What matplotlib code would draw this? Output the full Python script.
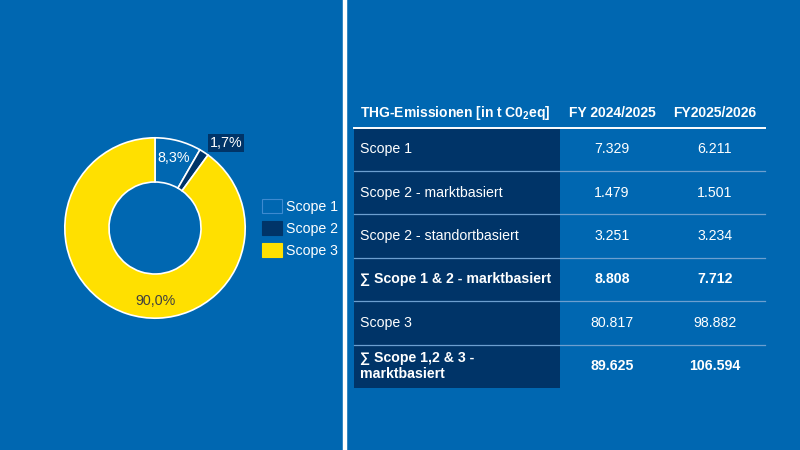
import numpy as np
import matplotlib
matplotlib.use('Agg')
import matplotlib.pyplot as plt
import matplotlib.patches as mpatches

plt.rcParams['font.family'] = ['Liberation Sans', 'DejaVu Sans']
plt.rcParams['mathtext.fontset'] = 'custom'
plt.rcParams['mathtext.rm'] = 'Liberation Sans:bold'
plt.rcParams['mathtext.default'] = 'rm'

# donut data
scopes = ['Scope 1', 'Scope 2', 'Scope 3']
shares = [8.3, 1.7, 90.0]

# table data
header = ['THG-Emissionen [in t C0$_2$eq]', 'FY 2024/2025', 'FY2025/2026']
row_labels = ['Scope 1', 'Scope 2 - marktbasiert', 'Scope 2 - standortbasiert',
              '\u2211 Scope 1 & 2 - marktbasiert', 'Scope 3',
              '\u2211 Scope 1,2 & 3 -\nmarktbasiert']
fy_2425 = ['7.329', '1.479', '3.251', '8.808', '80.817', '89.625']
fy_2526 = ['6.211', '1.501', '3.234', '7.712', '98.882', '106.594']
bold_rows = [False, False, False, True, False, True]

bg = '#0067b1'
navy = '#003468'
yellow = '#ffe000'
colors = [bg, navy, yellow]

fig = plt.figure(figsize=(8, 4.5), dpi=100, facecolor=bg)
ax = fig.add_axes([0, 0, 1, 1])
ax.set_xlim(0, 800)
ax.set_ylim(450, 0)
ax.axis('off')

# white divider
ax.plot([345, 345], [0, 450], color='white', lw=3.2, solid_capstyle='butt')

# table
x0, x1, xc, xr = 354, 560, [612, 715], 765
top, rh = 127.5, 43.4
ax.add_patch(mpatches.Rectangle((x0, top), x1 - x0, rh * len(row_labels),
                                facecolor=navy, edgecolor='none'))
ax.text(360, 113, header[0], color='white', fontsize=10, fontweight='bold',
        va='center', ha='left')
for j in range(2):
    ax.text(xc[j], 113, header[j + 1], color='white', fontsize=10,
            fontweight='bold', va='center', ha='center')
ax.plot([x0, xr], [top, top], color='white', lw=1.4)

for i, lab in enumerate(row_labels):
    yc = top + rh * (i + 0.5)
    w = 'bold' if bold_rows[i] else 'normal'
    ax.text(360, yc, lab, color='white', fontsize=10.2, fontweight=w,
            va='center', ha='left', linespacing=1.15)
    ax.text(xc[0], yc, fy_2425[i], color='white', fontsize=10.2, fontweight=w,
            va='center', ha='center')
    ax.text(xc[1], yc, fy_2526[i], color='white', fontsize=10.2, fontweight=w,
            va='center', ha='center')
    if i < len(row_labels) - 1:
        ax.plot([x0, xr], [top + rh * (i + 1)] * 2, color='#6c9fd0', lw=0.9)

# donut
cx, cy, R = 155, 228, 92
pax = fig.add_axes([(cx - R) / 800, 1 - (cy + R) / 450, 2 * R / 800, 2 * R / 450])
wedges, _ = pax.pie(shares, colors=colors, startangle=90, counterclock=False,
                    radius=1, wedgeprops=dict(width=0.49, edgecolor='white', linewidth=1.2))
pax.set_aspect('equal')
pax.set_xlim(-1.02, 1.02)
pax.set_ylim(-1.02, 1.02)

def pct(v):
    return ('%.1f%%' % v).replace('.', ',')

ang = 90 - np.cumsum([0] + shares[:-1]) * 3.6 - np.array(shares) * 1.8
r = 0.80
pax.text(r * np.cos(np.radians(ang[0])), r * np.sin(np.radians(ang[0])), pct(shares[0]),
         color='white', fontsize=10.3, ha='center', va='center')
pax.text(1.23 * np.cos(np.radians(ang[1] - 7)), 1.23 * np.sin(np.radians(ang[1] - 7)), pct(shares[1]),
         color='white', fontsize=10.3, ha='center', va='center',
         bbox=dict(boxstyle='square,pad=0.12', facecolor=navy, edgecolor='none'))
pax.text(0, -0.81, pct(shares[2]), color='#404040', fontsize=10.3,
         ha='center', va='center')

handles = [mpatches.Patch(facecolor=c, edgecolor='#3d8ad0' if c == bg else c, lw=0.8)
           for c in colors]
fig.legend(handles, scopes, loc='upper left', bbox_to_anchor=(262 / 800, 1 - 199 / 450),
           frameon=False, fontsize=10.2, labelcolor='white', handlelength=1.4,
           handleheight=1.15, labelspacing=0.5, handletextpad=0.3, borderpad=0,
           borderaxespad=0)

fig.savefig('out.png', dpi=100, facecolor=bg)
